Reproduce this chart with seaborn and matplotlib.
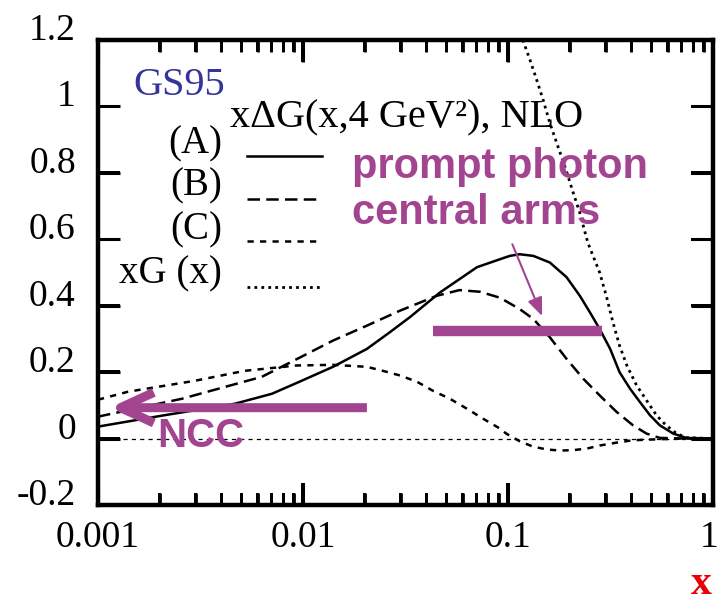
import numpy as np
import matplotlib
matplotlib.use("Agg")
import matplotlib.pyplot as plt
import seaborn as sns
from matplotlib.lines import Line2D
from matplotlib.patches import Rectangle
from matplotlib.ticker import FixedLocator, FixedFormatter, LogLocator, NullFormatter, NullLocator
from matplotlib.transforms import ScaledTranslation, blended_transform_factory

# ---------------- data ----------------
x_A = [0.001, 0.00205, 0.00466, 0.00706, 0.0096, 0.014, 0.0205, 0.0265, 0.0333, 0.0466, 0.0706,
       0.0914, 0.102, 0.114, 0.133, 0.16, 0.193, 0.224, 0.251, 0.28, 0.315, 0.35, 0.394, 0.44,
       0.493, 0.55, 0.64, 0.74, 1.0]
y_A = [0.036, 0.069, 0.105, 0.135, 0.171, 0.216, 0.27, 0.32, 0.366, 0.44, 0.516,
       0.54, 0.55, 0.555, 0.55, 0.53, 0.486, 0.43, 0.38, 0.33, 0.27, 0.20, 0.15, 0.11,
       0.07, 0.04, 0.015, 0.002, 0.0]

x_B = [0.001, 0.00257, 0.0063, 0.0098, 0.014, 0.0205, 0.0297, 0.045, 0.058, 0.073, 0.0914,
       0.114, 0.133, 0.16, 0.193, 0.233, 0.28, 0.339, 0.407, 0.474, 0.55, 0.75, 1.0]
y_B = [0.066, 0.12, 0.186, 0.246, 0.295, 0.34, 0.385, 0.43, 0.447, 0.442, 0.424,
       0.39, 0.36, 0.305, 0.24, 0.18, 0.13, 0.08, 0.04, 0.015, 0.002, 0.0, 0.0]

x_C = [0.001, 0.0014, 0.00297, 0.0052, 0.0093, 0.014, 0.0205, 0.0245, 0.0297, 0.036, 0.043,
       0.052, 0.063, 0.0755, 0.0914, 0.098, 0.114, 0.132, 0.155, 0.18, 0.207, 0.243, 0.28,
       0.34, 0.407, 0.49, 0.7, 1.0]
y_C = [0.117, 0.141, 0.174, 0.204, 0.22, 0.222, 0.216, 0.204, 0.19, 0.171, 0.144,
       0.12, 0.09, 0.06, 0.03, 0.015, -0.008, -0.024, -0.033, -0.036, -0.035, -0.03, -0.021,
       -0.012, -0.005, -0.003, 0.0, 0.0]

x_G = [0.115, 0.128, 0.138, 0.149, 0.16, 0.176, 0.194, 0.208, 0.224, 0.245, 0.26, 0.28, 0.303,
       0.325, 0.35, 0.38, 0.424, 0.48, 0.53, 0.59, 0.665, 0.74, 1.0]
y_G = [1.22, 1.14, 1.08, 1.016, 0.95, 0.876, 0.80, 0.74, 0.68, 0.59, 0.55, 0.50, 0.425,
       0.35, 0.28, 0.22, 0.16, 0.11, 0.07, 0.04, 0.015, 0.003, 0.0]

x_ticks = [0.001, 0.01, 0.1, 1]
x_tick_labels = ["0.001", "0.01", "0.1", "1"]
y_ticks = [-0.2, 0, 0.2, 0.4, 0.6, 0.8, 1.0, 1.2]
y_tick_labels = ["-0.2", "0", "0.2", "0.4", "0.6", "0.8", "1", "1.2"]

legend_labels = ["(A)", "(B)", "(C)", "xG (x)"]

# ---------------- style ----------------
plt.rcParams.update({
    "font.family": ["Liberation Serif", "DejaVu Serif"],
    "axes.unicode_minus": False,
    "lines.scale_dashes": False,
    "xtick.direction": "in", "ytick.direction": "in",
    "xtick.top": True, "xtick.bottom": True,
    "ytick.left": True, "ytick.right": True,
    "xtick.major.size": 16, "ytick.major.size": 16,
    "xtick.major.width": 2.2, "ytick.major.width": 2.2,
    "xtick.minor.size": 8.5, "xtick.minor.width": 2.0,
    "xtick.minor.visible": True, "ytick.minor.visible": False,
    "xtick.color": "black", "ytick.color": "black",
    "axes.linewidth": 3.2, "axes.edgecolor": "black",
    "xtick.labelsize": 27, "ytick.labelsize": 27,
    "xtick.major.pad": 11, "ytick.major.pad": 16,
})

MAG = "#a34491"
W, H = 719, 600
AX_L, AX_R, AX_T, AX_B = 98, 713, 40, 505
XLIM = (0.001, 1)
YLIM = (-0.2, 1.2)


def fp(x, y):
    return x / W, 1 - y / H


fig = plt.figure(figsize=(W / 100, H / 100), dpi=100)
ax = fig.add_axes([AX_L / W, 1 - AX_B / H, (AX_R - AX_L) / W, (AX_B - AX_T) / H])
ax.set_xscale("log")

styles = {
    "A": dict(linestyle="-", lw=1.8),
    "B": dict(linestyle=(0, (9, 4.5)), lw=1.8),
    "C": dict(linestyle=(0, (4.5, 4.5)), lw=1.8),
    "G": dict(linestyle=(0, (2, 3)), lw=2.0),
}

sns.lineplot(x=x_A, y=y_A, ax=ax, color="black", estimator=None, **styles["A"])
sns.lineplot(x=x_B, y=y_B, ax=ax, color="black", estimator=None, **styles["B"])
sns.lineplot(x=x_C, y=y_C, ax=ax, color="black", estimator=None, **styles["C"])
sns.lineplot(x=x_G, y=y_G, ax=ax, color="black", estimator=None, **styles["G"])

ax.axhline(0, color="black", lw=0.9, linestyle=(0, (3, 3)), zorder=1)

ax.set_xlim(*XLIM)
ax.set_ylim(*YLIM)

ax.xaxis.set_major_locator(FixedLocator(x_ticks))
ax.xaxis.set_major_formatter(FixedFormatter(x_tick_labels))
ax.xaxis.set_minor_locator(LogLocator(base=10, subs=range(2, 10)))
ax.xaxis.set_minor_formatter(NullFormatter())
ax.yaxis.set_major_locator(FixedLocator(y_ticks))
ax.yaxis.set_major_formatter(FixedFormatter(y_tick_labels))
ax.yaxis.set_minor_locator(NullLocator())

ax.tick_params(which="both", direction="in", bottom=True, left=True, top=True, right=True)
ax.tick_params(which="major", length=16, width=2.2)
ax.tick_params(which="minor", length=8.5, width=2.0)
for lab in ax.get_yticklabels():
    lab.set_va("baseline")
xl = ax.get_xticklabels()
xl[-1].set_transform(xl[-1].get_transform() + ScaledTranslation(-4 / 100, 0, fig.dpi_scale_trans))

# inward tick marks on all four sides, drawn as thin filled rectangles
ax_w, ax_h = AX_R - AX_L, AX_B - AX_T
maj_px, min_px = 22, 12
x_minor = [d * k for d in x_ticks[:-1] for k in range(2, 10)]
tr_x = blended_transform_factory(ax.transData, ax.transAxes)
tr_y = blended_transform_factory(ax.transAxes, ax.transData)
for xs, L, wpx in [(x_ticks, maj_px, 3.2), (x_minor, min_px, 2.8)]:
    f = L / ax_h
    for xv in xs:
        # width in data (log) units for wpx pixels
        half = 10 ** (3.0 * (wpx / 2) / ax_w)
        for y0 in (0.0, 1.0 - f):
            ax.add_patch(Rectangle((xv / half, y0), xv * half - xv / half, f, transform=tr_x,
                                   facecolor="black", edgecolor="none", clip_on=False, zorder=4))
fy = maj_px / ax_w
hy = (YLIM[1] - YLIM[0]) * 3.4 / ax_h
for yv in y_ticks:
    for x0 in (0.0, 1.0 - fy):
        ax.add_patch(Rectangle((x0, yv - hy / 2), fy, hy, transform=tr_y,
                               facecolor="black", edgecolor="none", clip_on=False, zorder=4))

ax.set_xlim(*XLIM)
ax.set_ylim(*YLIM)
ax.set_xlabel("")
ax.set_ylabel("")

# ---------------- legend (drawn as in the reference) ----------------
fig.text(*fp(133, 95), "GS95", color="#34349a", fontsize=29, ha="left", va="baseline")
fig.text(*fp(230, 127), "x\u0394G(x,4 GeV\u00b2), NLO", color="black", fontsize=29,
         ha="left", va="baseline")
leg_y_text = [153, 195, 239, 283]
leg_y_line = [156, 199, 241, 287]
for lab, yt_, yl, key in zip(legend_labels, leg_y_text, leg_y_line, ["A", "B", "C", "G"]):
    fig.text(*fp(222, yt_), lab, fontsize=28, ha="right", va="baseline", color="black")
    x0, y0 = fp(247, yl)
    x1, _ = fp(322, yl)
    fig.add_artist(Line2D([x0, x1], [y0, y0], transform=fig.transFigure, color="black",
                          **styles[key]))

# ---------------- annotations ----------------
sans = ["Liberation Sans", "DejaVu Sans"]
fig.text(*fp(352, 178), "prompt photon", color=MAG, fontsize=30, fontweight="bold",
         family=sans, ha="left", va="baseline")
fig.text(*fp(352, 224), "central arms", color=MAG, fontsize=30, fontweight="bold",
         family=sans, ha="left", va="baseline")
fig.text(*fp(157, 447), "NCC", color=MAG, fontsize=29, fontweight="bold",
         family=sans, ha="left", va="baseline")

ax.plot([0.043, 0.288], [0.324, 0.324], color=MAG, lw=7.5, solid_capstyle="butt", zorder=5)
ax.annotate("", xy=(0.1466, 0.369), xytext=(0.105, 0.585),
            arrowprops=dict(arrowstyle="-|>,head_length=1.1,head_width=0.45", lw=1.5,
                            color=MAG, shrinkA=0, shrinkB=0), zorder=6)
ax.annotate("", xy=(0.00114, 0.093), xytext=(0.0205, 0.093),
            arrowprops=dict(arrowstyle="->,head_length=2.4,head_width=1.1", lw=6.5,
                            color=MAG, shrinkA=0, shrinkB=0, capstyle="butt"), zorder=6)

fig.text(*fp(712, 594), "x", color="#e8000b", fontsize=30, fontweight="bold",
         ha="right", va="baseline")

fig.savefig("out.png", dpi=100)
